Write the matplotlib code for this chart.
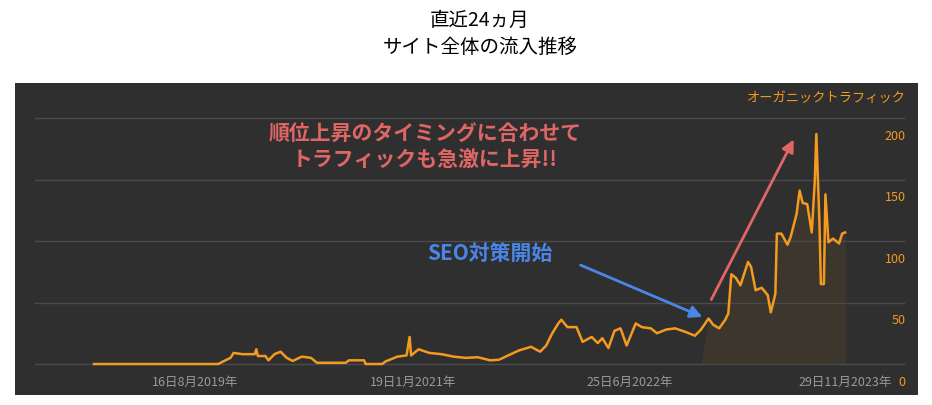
import matplotlib
matplotlib.use("Agg")
import matplotlib.pyplot as plt
import numpy as np

plt.rcParams["font.family"] = ["Noto Sans CJK JP", "DejaVu Sans"]

# decimal year, organic traffic
years = [2018.95, 2019.77, 2019.80, 2019.85, 2019.87, 2019.93, 2020.01, 2020.02, 2020.03, 2020.08,
         2020.10, 2020.14, 2020.18, 2020.22, 2020.26, 2020.32, 2020.38, 2020.42, 2020.61, 2020.63,
         2020.73, 2020.74, 2020.85, 2020.87, 2020.95, 2021.01, 2021.03, 2021.04, 2021.09, 2021.16,
         2021.24, 2021.32, 2021.40, 2021.48, 2021.56, 2021.62, 2021.68, 2021.75, 2021.83, 2021.89,
         2021.93, 2021.97, 2022.01, 2022.03, 2022.07, 2022.13, 2022.17, 2022.23, 2022.27, 2022.30,
         2022.34, 2022.38, 2022.42, 2022.46, 2022.52, 2022.56, 2022.62, 2022.66, 2022.72, 2022.78,
         2022.85, 2022.91, 2022.95, 2023.00, 2023.03, 2023.07, 2023.11, 2023.13, 2023.15, 2023.18,
         2023.21, 2023.26, 2023.28, 2023.31, 2023.35, 2023.39, 2023.41, 2023.44, 2023.45, 2023.48,
         2023.52, 2023.54, 2023.58, 2023.60, 2023.62, 2023.65, 2023.68, 2023.70, 2023.71, 2023.73,
         2023.74, 2023.76, 2023.77, 2023.79, 2023.82, 2023.86, 2023.88, 2023.90]
traffic = [0, 0, 2, 5, 9, 8, 8, 12, 6.5, 6.5,
           3, 8, 10, 5, 2.5, 6, 5, 1, 1, 3,
           3, 0, 0, 2, 6, 7, 22, 7, 12, 9,
           8, 6, 5, 5.5, 3, 3.5, 7, 11, 14, 10,
           15, 25, 33, 36, 30, 30, 18, 22, 17, 21,
           13, 27, 29, 15, 33, 30, 29, 25, 28, 29,
           26, 23, 28, 37, 32, 29, 36, 41, 73, 70,
           64, 83, 79, 60, 62, 56, 42, 57, 106, 106,
           97, 103, 122, 141, 131, 130, 107, 149, 187, 117,
           65, 65, 138, 99, 102, 98, 106, 107]
y_ticks = [0, 50, 100, 150, 200]
x_tick_pos = [2019.62, 2021.05, 2022.48, 2023.90]
x_tick_labels = ["16日8月2019年", "19日1月2021年", "25日6月2022年", "29日11月2023年"]

ORANGE = "#f39a1f"
W, H = 932, 405
fig = plt.figure(figsize=(W / 100, H / 100), dpi=100)
fig.patch.set_facecolor("white")

ax = fig.add_axes([15 / W, 10 / H, 903 / W, 312 / H])
ax.set_facecolor("#2f2f2f")
ax.set_xlim(2018.43, 2024.38)
ax.set_ylim(-25.2, 228.5)
for s in ax.spines.values():
    s.set_visible(False)
ax.set_xticks([]); ax.set_yticks([])

for v in y_ticks:
    ax.axhline(v, xmin=0.022, xmax=0.985, color="#4a4a4a", lw=1)
    ax.text(2024.30, v - 15, str(v), color=ORANGE, fontsize=9, ha="right", va="center")
for p, lab in zip(x_tick_pos, x_tick_labels):
    ax.text(p, -14.6, lab, color="#9a9a9a", fontsize=9, ha="center", va="center")
ax.text(2024.30, 216, "オーガニックトラフィック", color=ORANGE, fontsize=9.5, ha="right", va="center")

x = np.array(years); yv = np.array(traffic)
ax.fill_between(x, 0, yv, where=x >= 2023.0, color=ORANGE, alpha=0.07, lw=0, interpolate=True)
ax.plot(x, yv, color=ORANGE, lw=1.8)

fig.text(480 / W, 1 - 20 / H, "直近24ヵ月", fontsize=14, ha="center", va="center")
fig.text(480 / W, 1 - 47 / H, "サイト全体の流入推移", fontsize=14, ha="center", va="center")

fig.text(425 / W, 1 - 147 / H, "順位上昇のタイミングに合わせて\nトラフィックも急激に上昇!!",
         color="#e06666", fontsize=15, fontweight="bold", ha="center", va="center", linespacing=1.3)
fig.text(490 / W, 1 - 253 / H, "SEO対策開始", color="#4a86e8", fontsize=15,
         fontweight="bold", ha="center", va="center")

fig_ax = fig.add_axes([0, 0, 1, 1], facecolor="none")
fig_ax.set_xlim(0, W); fig_ax.set_ylim(H, 0); fig_ax.axis("off")
fig_ax.annotate("", xy=(795, 137), xytext=(710, 302),
                arrowprops=dict(arrowstyle="-|>", color="#e06666", lw=2, mutation_scale=18))
fig_ax.annotate("", xy=(705, 318), xytext=(578, 264),
                arrowprops=dict(arrowstyle="-|>", color="#4a86e8", lw=2, mutation_scale=18))

fig.savefig("out.png", dpi=100)
